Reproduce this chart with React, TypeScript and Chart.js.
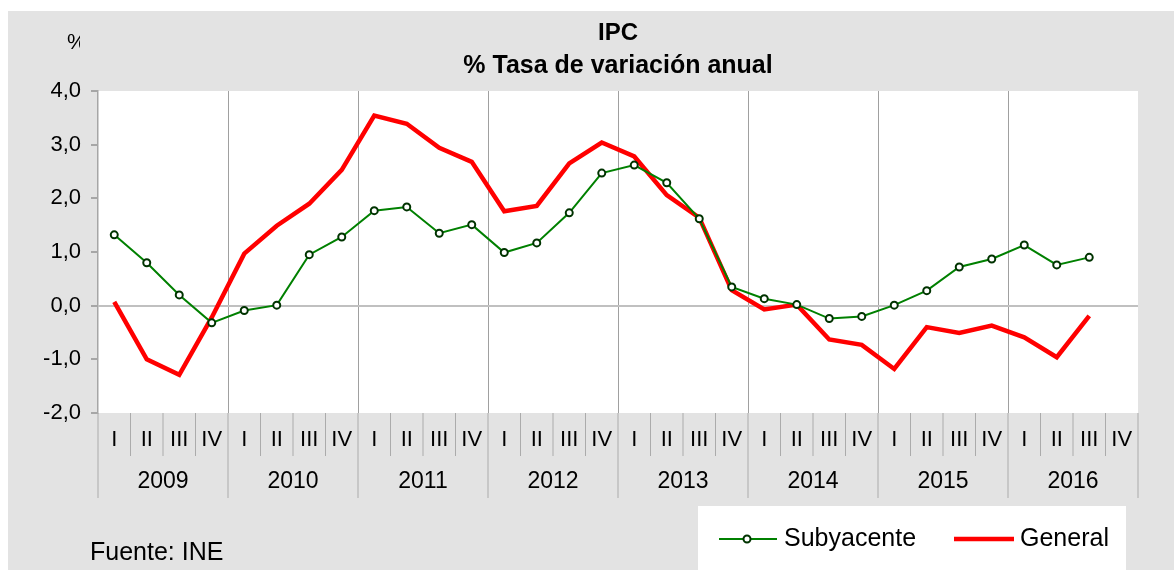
import React, { useEffect, useRef } from "react";
import { Chart, registerables } from "chart.js";

Chart.register(...registerables);

const years = ["2009", "2010", "2011", "2012", "2013", "2014", "2015", "2016"];
const quarters = ["I", "II", "III", "IV"];
const categories = years.flatMap((y) => quarters.map((q) => `${q} ${y}`));

const subyacente = [
  1.32, 0.8, 0.2, -0.32,
  -0.09, 0.01, 0.95, 1.28,
  1.77, 1.84, 1.35, 1.51,
  0.99, 1.17, 1.73, 2.47,
  2.62, 2.29, 1.62, 0.35,
  0.13, 0.02, -0.24, -0.2,
  0.01, 0.28, 0.72, 0.87,
  1.13, 0.76, 0.9,
];

const general = [
  0.07, -1.0, -1.29, -0.22,
  0.97, 1.49, 1.9, 2.53,
  3.54, 3.39, 2.94, 2.68,
  1.76, 1.86, 2.65, 3.04,
  2.78, 2.06, 1.64, 0.29,
  -0.07, 0.02, -0.63, -0.73,
  -1.18, -0.4, -0.51, -0.37,
  -0.59, -0.96, -0.19,
];

const yMin = -2;
const yMax = 4;
const yStep = 1;

const titleLines = ["IPC", "% Tasa de variación anual"];
const unitLabel = "%";
const sourceLabel = "Fuente: INE";

const FONT = "'Liberation Sans', Arial, sans-serif";
const W = 1166;
const H = 559;

const decorPlugin = {
  id: "decor",
  beforeDraw(chart: any) {
    const { ctx, chartArea } = chart;
    ctx.save();
    ctx.fillStyle = "#e3e3e3";
    ctx.fillRect(0, 0, chart.width, chart.height);
    ctx.fillStyle = "#ffffff";
    ctx.fillRect(chartArea.left, chartArea.top, chartArea.right - chartArea.left, chartArea.bottom - chartArea.top);
    ctx.restore();
  },
  afterDraw(chart: any) {
    const { ctx, chartArea } = chart;
    const xs = chart.scales.x;
    const n = categories.length;
    const half = (xs.getPixelForValue(1) - xs.getPixelForValue(0)) / 2;
    const bottom = chartArea.bottom;
    ctx.save();

    // separators
    ctx.strokeStyle = "#ababab";
    ctx.lineWidth = 1;
    for (let i = 0; i <= n; i++) {
      const x = i < n ? xs.getPixelForValue(i) - half : xs.getPixelForValue(n - 1) + half;
      const isYear = i % 4 === 0;
      ctx.beginPath();
      ctx.moveTo(x, bottom);
      ctx.lineTo(x, bottom + (isYear ? 85 : 43));
      ctx.stroke();
    }

    // quarter labels
    ctx.fillStyle = "#000";
    ctx.textAlign = "center";
    ctx.textBaseline = "alphabetic";
    ctx.font = `22px ${FONT}`;
    for (let i = 0; i < n; i++) {
      ctx.fillText(quarters[i % 4], xs.getPixelForValue(i), bottom + 33);
    }
    // year labels
    ctx.font = `23px ${FONT}`;
    years.forEach((y, k) => {
      const x0 = xs.getPixelForValue(k * 4) - half;
      const x1 = xs.getPixelForValue(k * 4 + 3) + half;
      ctx.fillText(y, (x0 + x1) / 2, bottom + 75);
    });

    // title
    const cx = (chartArea.left + chartArea.right) / 2;
    ctx.font = `bold 24px ${FONT}`;
    ctx.fillText(titleLines[0], cx, 29);
    ctx.font = `bold 25px ${FONT}`;
    ctx.fillText(titleLines[1], cx, 62);

    // unit label (clipped)
    ctx.save();
    ctx.beginPath();
    ctx.rect(50, 15, 22, 30);
    ctx.clip();
    ctx.textAlign = "left";
    ctx.font = `22px ${FONT}`;
    ctx.fillText(unitLabel, 59, 38);
    ctx.restore();

    // source
    ctx.textAlign = "left";
    ctx.font = `25px ${FONT}`;
    ctx.fillText(sourceLabel, 82, 549);

    // legend
    const ds = chart.data.datasets;
    ctx.fillStyle = "#ffffff";
    ctx.fillRect(690, 495, 428, H - 495);
    const ly = 528;
    // Subyacente
    ctx.strokeStyle = ds[0].borderColor;
    ctx.lineWidth = ds[0].borderWidth;
    ctx.beginPath();
    ctx.moveTo(711, ly);
    ctx.lineTo(769, ly);
    ctx.stroke();
    ctx.beginPath();
    ctx.arc(739, ly, 3.5, 0, Math.PI * 2);
    ctx.fillStyle = ds[0].pointBackgroundColor;
    ctx.fill();
    ctx.strokeStyle = ds[0].pointBorderColor;
    ctx.lineWidth = 2;
    ctx.stroke();
    ctx.fillStyle = "#000";
    ctx.font = `25px ${FONT}`;
    ctx.fillText(ds[0].label, 776, 535);
    // General
    ctx.strokeStyle = ds[1].borderColor;
    ctx.lineWidth = ds[1].borderWidth;
    ctx.beginPath();
    ctx.moveTo(946, ly);
    ctx.lineTo(1006, ly);
    ctx.stroke();
    ctx.fillStyle = "#000";
    ctx.fillText(ds[1].label, 1012, 535);

    ctx.restore();
  },
};

export default function App() {
  const ref = useRef<HTMLCanvasElement | null>(null);

  useEffect(() => {
    if (!ref.current) return;
    const chart = new Chart(ref.current, {
      type: "line",
      data: {
        labels: categories,
        datasets: [
          {
            label: "Subyacente",
            data: subyacente,
            borderColor: "#008000",
            borderWidth: 2,
            pointRadius: 3.5,
            pointBorderWidth: 2,
            pointBackgroundColor: "#ffffff",
            pointBorderColor: "#003300",
            tension: 0,
          },
          {
            label: "General",
            data: general,
            borderColor: "#ff0000",
            borderWidth: 4.5,
            pointRadius: 0,
            tension: 0,
          },
        ],
      },
      options: {
        animation: false,
        responsive: false,
        devicePixelRatio: 1,
        layout: { padding: { top: 80, right: 36, left: 0, bottom: 0 } },
        plugins: {
          legend: { display: false },
          title: { display: false },
          tooltip: { enabled: false },
        },
        scales: {
          x: {
            type: "category",
            offset: true,
            ticks: { display: false },
            grid: {
              offset: true,
              drawTicks: false,
              lineWidth: 1,
              color: (c: any) =>
                typeof c.index === "number" && c.index > 0 && c.index % 4 === 0 ? "#a0a0a0" : "rgba(0,0,0,0)",
            },
            border: { display: false },
            afterFit: (s: any) => {
              s.height = 157;
            },
          },
          y: {
            min: yMin,
            max: yMax,
            ticks: {
              stepSize: yStep,
              padding: 10,
              color: "#000",
              font: { size: 22, family: FONT },
              callback: (v: any) => Number(v).toFixed(1).replace(".", ","),
            },
            grid: {
              color: (c: any) => (c.tick && c.tick.value === 0 ? "#c0c0c0" : "rgba(0,0,0,0)"),
              lineWidth: 2,
              tickColor: "#a6a6a6",
              tickLength: 7,
            },
            border: { color: "#a6a6a6", width: 1.5 },
            afterFit: (s: any) => {
              s.width = 90;
            },
          },
        },
      },
      plugins: [decorPlugin],
    });
    return () => chart.destroy();
  }, []);

  return (
    <div style={{ position: "fixed", left: 8, top: 11, width: W, height: H }}>
      <canvas ref={ref} width={W} height={H} style={{ display: "block", width: W, height: H }} />
    </div>
  );
}
